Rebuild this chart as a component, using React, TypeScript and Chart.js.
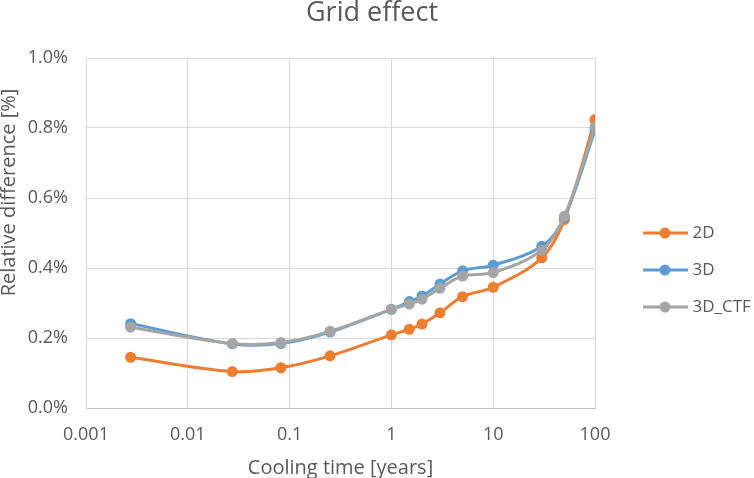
import React, { useEffect, useRef } from "react";
import { Chart, registerables } from "chart.js";

Chart.register(...registerables);

const TITLE = "Grid effect";
const X_TITLE = "Cooling time [years]";
const Y_TITLE = "Relative difference [%]";

const coolingYears = [0.00274, 0.0274, 0.0822, 0.25, 1, 1.5, 2, 3, 5, 10, 30, 50, 100];
const series2D = [0.145, 0.104, 0.115, 0.149, 0.209, 0.225, 0.240, 0.272, 0.318, 0.345, 0.429, 0.538, 0.824];
const series3D = [0.241, 0.183, 0.184, 0.217, 0.282, 0.304, 0.320, 0.354, 0.392, 0.408, 0.462, 0.545, 0.794];
const series3DCTF = [0.231, 0.184, 0.187, 0.219, 0.282, 0.297, 0.311, 0.342, 0.377, 0.387, 0.451, 0.548, 0.803];

const seriesNames = ["2D", "3D", "3D_CTF"];
const seriesColors = ["#ED7D31", "#5B9BD5", "#A5A5A5"];

const xTickValues = [0.001, 0.01, 0.1, 1, 10, 100];
const xTickLabels = ["0.001", "0.01", "0.1", "1", "10", "100"];
const yTickMin = 0;
const yTickMax = 1.0;
const yTickStep = 0.2;

const FONT = "'Open Sans', 'DejaVu Sans', sans-serif";
const TEXT = "#595959";

function legendMarker(color: string): HTMLCanvasElement {
  const c = document.createElement("canvas");
  c.width = 45;
  c.height = 14;
  const ctx = c.getContext("2d")!;
  ctx.strokeStyle = color;
  ctx.lineWidth = 3;
  ctx.beginPath();
  ctx.moveTo(0, 7);
  ctx.lineTo(45, 7);
  ctx.stroke();
  ctx.fillStyle = color;
  ctx.beginPath();
  ctx.arc(22.5, 7, 5.5, 0, Math.PI * 2);
  ctx.fill();
  return c;
}

export default function App() {
  const ref = useRef<HTMLCanvasElement | null>(null);

  useEffect(() => {
    document.body.style.margin = "0";
    const canvas = ref.current!;
    const allSeries = [series2D, series3D, series3DCTF];
    const datasets = allSeries.map((vals, i) => ({
      label: seriesNames[i],
      data: vals.map((v, j) => ({ x: coolingYears[j], y: v })),
      borderColor: seriesColors[i],
      backgroundColor: seriesColors[i],
      pointBackgroundColor: seriesColors[i],
      pointBorderColor: seriesColors[i],
      pointRadius: 5.5,
      pointBorderWidth: 0,
      borderWidth: 3,
      tension: 0.35,
      fill: false,
      order: 2 - i,
    }));

    const markers = seriesColors.map(legendMarker);

    const layoutPlugin = {
      id: "layoutTweaks",
      beforeInit(chart: any) {
        const legend = chart.legend;
        if (legend) {
          const origFit = legend.fit.bind(legend);
          legend.fit = function () {
            origFit();
            this.width = 159;
          };
        }
      },
      afterLayout(chart: any) {
        const legend = chart.legend;
        if (legend) {
          legend.left = 646 - 20;
          legend.right = 754;
          legend.top = 0;
          legend.bottom = 540;
        }
        const tb = chart.titleBlock;
        if (tb) {
          tb.left -= 10;
          tb.right -= 0;
        }
      },
      afterDraw(chart: any) {
        const ctx = chart.ctx;
        ctx.save();
        ctx.translate(9, 192.5);
        ctx.rotate(-Math.PI / 2);
        ctx.fillStyle = TEXT;
        ctx.font = `normal 20px ${FONT}`;
        ctx.textAlign = "center";
        ctx.textBaseline = "middle";
        ctx.fillText(Y_TITLE, 0, 0);
        ctx.restore();
      },
    };

    const chart = new Chart(canvas, {
      type: "line",
      data: { datasets: datasets as any },
      options: {
        animation: false,
        responsive: false,
        devicePixelRatio: 1,
        layout: { padding: { left: 0, right: 0, top: 0, bottom: 0 } },
        plugins: {
          title: {
            display: true,
            text: TITLE,
            color: TEXT,
            font: { family: FONT, size: 27, weight: "normal", lineHeight: 1 },
            padding: { top: 0, bottom: 31 },
          },
          legend: {
            position: "right",
            align: "center",
            labels: {
              color: TEXT,
              font: { family: FONT, size: 17 },
              usePointStyle: true,
              pointStyleWidth: 38,
              padding: 20,
              generateLabels: (ch: any) => {
                const base = Chart.defaults.plugins.legend.labels.generateLabels(ch);
                base.sort((a: any, b: any) => a.datasetIndex - b.datasetIndex);
                return base.map((it: any) => ({
                  ...it,
                  pointStyle: markers[it.datasetIndex],
                }));
              },
            },
          },
          tooltip: { enabled: false },
        },
        scales: {
          x: {
            type: "logarithmic",
            min: xTickValues[0],
            max: xTickValues[xTickValues.length - 1],
            afterBuildTicks: (scale: any) => {
              scale.ticks = xTickValues.map((v) => ({ value: v }));
            },
            afterFit: (scale: any) => {
              scale.height = 70;
            },
            ticks: {
              color: TEXT,
              font: { family: FONT, size: 18 },
              padding: 16,
              maxRotation: 0,
              autoSkip: false,
              callback: (value: any) => {
                const idx = xTickValues.findIndex((v) => Math.abs(v - Number(value)) < v * 1e-6);
                return idx >= 0 ? xTickLabels[idx] : "";
              },
            },
            grid: { color: "#D9D9D9", lineWidth: 1, drawTicks: false },
            border: { color: "#BFBFBF", width: 1 },
            title: {
              display: true,
              text: X_TITLE,
              color: TEXT,
              font: { family: FONT, size: 20, lineHeight: 1 },
              padding: { top: 0, bottom: 0 },
            },
          },
          y: {
            type: "linear",
            min: yTickMin,
            max: yTickMax,
            afterFit: (scale: any) => {
              scale.width = 86;
            },
            ticks: {
              stepSize: yTickStep,
              color: TEXT,
              font: { family: FONT, size: 18 },
              padding: 18,
              callback: (value: any) => Number(value).toFixed(1) + "%",
            },
            grid: { color: "#D9D9D9", lineWidth: 1, drawTicks: false },
            border: { color: "#D9D9D9", width: 1 },
            title: { display: false },
          },
        },
      },
      plugins: [layoutPlugin],
    });

    return () => chart.destroy();
  }, []);

  return (
    <div style={{ width: 754, height: 478 }}>
      <canvas ref={ref} width={754} height={478} style={{ display: "block" }} />
    </div>
  );
}
